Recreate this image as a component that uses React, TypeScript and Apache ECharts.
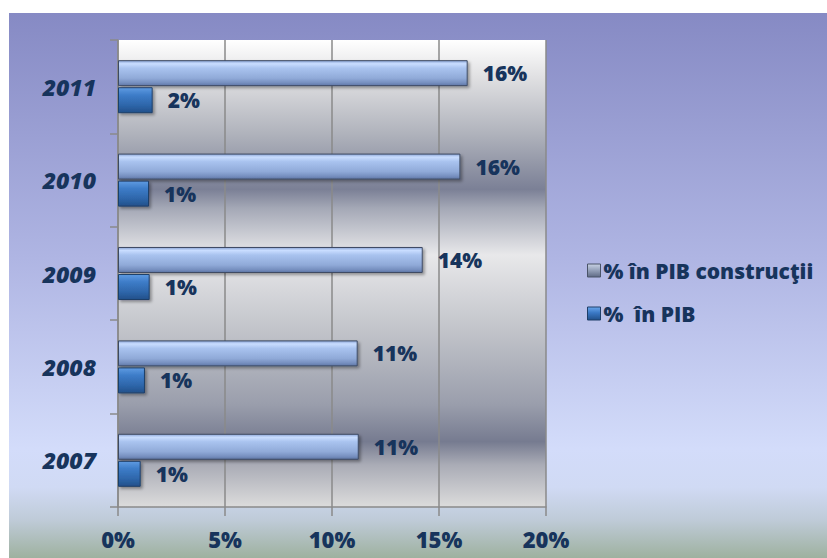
import React, { useEffect, useRef } from "react";
import * as echarts from "echarts";

const years = ["2007", "2008", "2009", "2010", "2011"];
const constructiiShare = [11.25, 11.2, 14.24, 16.0, 16.34];
const pibShare = [1.06, 1.26, 1.48, 1.45, 1.62];
const seriesNames = ["% în PIB construcţii", "%  în PIB"];
const xTicks = [0, 5, 10, 15, 20];

const TEXT = "#17345c";
const FONT = "'Open Sans', 'Noto Sans', sans-serif";
const WEIGHT = 800;

const vGrad = (stops: [number, string][]) => ({
  type: "linear",
  x: 0, y: 0, x2: 0, y2: 1,
  colorStops: stops.map(([offset, color]) => ({ offset, color })),
});

export default function App() {
  const ref = useRef<HTMLDivElement>(null);
  useEffect(() => {
    if (!ref.current) return;
    const chart = echarts.init(ref.current, undefined, { renderer: "svg" });
    const labelStyle = {
      show: true,
      position: "right",
      distance: 15,
      color: TEXT,
      fontFamily: FONT,
      fontWeight: WEIGHT,
      fontSize: 21,
      formatter: (p: any) => Math.round(p.value) + "%",
    };
    chart.setOption({
      animation: false,
      backgroundColor: "transparent",
      graphic: [
        {
          type: "rect",
          z: -10,
          silent: true,
          shape: { x: 9, y: 13, width: 818, height: 545 },
          style: {
            fill: vGrad([
              [0, "#868ac4"],
              [0.45, "#afb5e3"],
              [0.8, "#d3dcfa"],
              [0.87, "#d0daf4"],
              [0.93, "#bfcbd8"],
              [1, "#9eb19f"],
            ]),
          },
        },
      ],
      grid: {
        left: 118,
        right: 281,
        top: 40,
        bottom: 51,
        show: true,
        borderWidth: 0,
        backgroundColor: vGrad([
          [0, "#ffffff"],
          [0.08, "#e0e0e2"],
          [0.2, "#b0b3bc"],
          [0.32, "#7b8096"],
          [0.36, "#a4a8b6"],
          [0.46, "#e8e8ea"],
          [0.62, "#c2c4ca"],
          [0.78, "#9a9eac"],
          [0.86, "#767b90"],
          [0.91, "#aaacb6"],
          [1, "#dcdcdc"],
        ]),
      },
      legend: {
        orient: "vertical",
        left: 582,
        top: 255,
        itemWidth: 13,
        itemHeight: 13,
        itemGap: 22,
        icon: "rect",
        data: [
          {
            name: seriesNames[0],
            itemStyle: {
              color: vGrad([[0, "#c8d2e4"], [0.45, "#98a4bc"], [1, "#5e6a84"]]),
              borderColor: "#4a5468",
              borderWidth: 1,
            },
          },
          {
            name: seriesNames[1],
            itemStyle: {
              color: vGrad([[0, "#6aa6ec"], [0.45, "#3a78c4"], [1, "#21508a"]]),
              borderColor: "#1f3f68",
              borderWidth: 1,
            },
          },
        ],
        textStyle: {
          color: TEXT,
          fontFamily: FONT,
          fontWeight: WEIGHT,
          fontSize: 21,
          padding: [0, 0, 0, -2],
        },
      },
      xAxis: {
        type: "value",
        min: 0,
        max: 20,
        interval: 5,
        axisLine: { show: true, lineStyle: { color: "#8a8a8a", width: 1.5 } },
        axisTick: { show: true, length: 9, lineStyle: { color: "#8a8a8a", width: 1.5 } },
        splitLine: { show: true, lineStyle: { color: "#8a8a8a", width: 1.5 } },
        axisLabel: {
          margin: 21,
          color: TEXT,
          fontFamily: FONT,
          fontWeight: WEIGHT,
          fontSize: 22,
          customValues: xTicks,
          formatter: (v: number) => v + "%",
        },
      },
      yAxis: {
        type: "category",
        data: years,
        axisLine: { show: true, lineStyle: { color: "#8a8a8a", width: 1.5 } },
        axisTick: { show: true, length: 8, lineStyle: { color: "#8a8a8a", width: 1.5 } },
        axisLabel: {
          margin: 22,
          color: TEXT,
          fontFamily: FONT,
          fontWeight: WEIGHT,
          fontStyle: "italic",
          fontSize: 23,
        },
      },
      series: [
        {
          name: seriesNames[0],
          type: "bar",
          data: constructiiShare,
          barWidth: 26,
          barGap: "4%",
          label: labelStyle,
          itemStyle: {
            borderColor: "#3e4a62",
            borderWidth: 1,
            shadowBlur: 3,
            shadowColor: "rgba(0,0,0,0.35)",
            shadowOffsetX: 2,
            shadowOffsetY: 2,
            color: vGrad([
              [0, "#8aa4d6"],
              [0.12, "#c9ddff"],
              [0.3, "#a9c3ef"],
              [0.7, "#90aad8"],
              [0.88, "#7790c0"],
              [1, "#5f77a6"],
            ]),
          },
        },
        {
          name: seriesNames[1],
          type: "bar",
          data: pibShare,
          barWidth: 26,
          barGap: "4%",
          label: labelStyle,
          itemStyle: {
            borderColor: "#1f3f68",
            borderWidth: 1,
            shadowBlur: 3,
            shadowColor: "rgba(0,0,0,0.35)",
            shadowOffsetX: 2,
            shadowOffsetY: 2,
            color: vGrad([
              [0, "#5f9be2"],
              [0.3, "#3d7cc8"],
              [0.7, "#2e66aa"],
              [1, "#22508a"],
            ]),
          },
        },
      ],
    });
    return () => chart.dispose();
  }, []);
  return (
    <div
      ref={ref}
      style={{ position: "absolute", left: 0, top: 0, width: 827, height: 558 }}
    />
  );
}
